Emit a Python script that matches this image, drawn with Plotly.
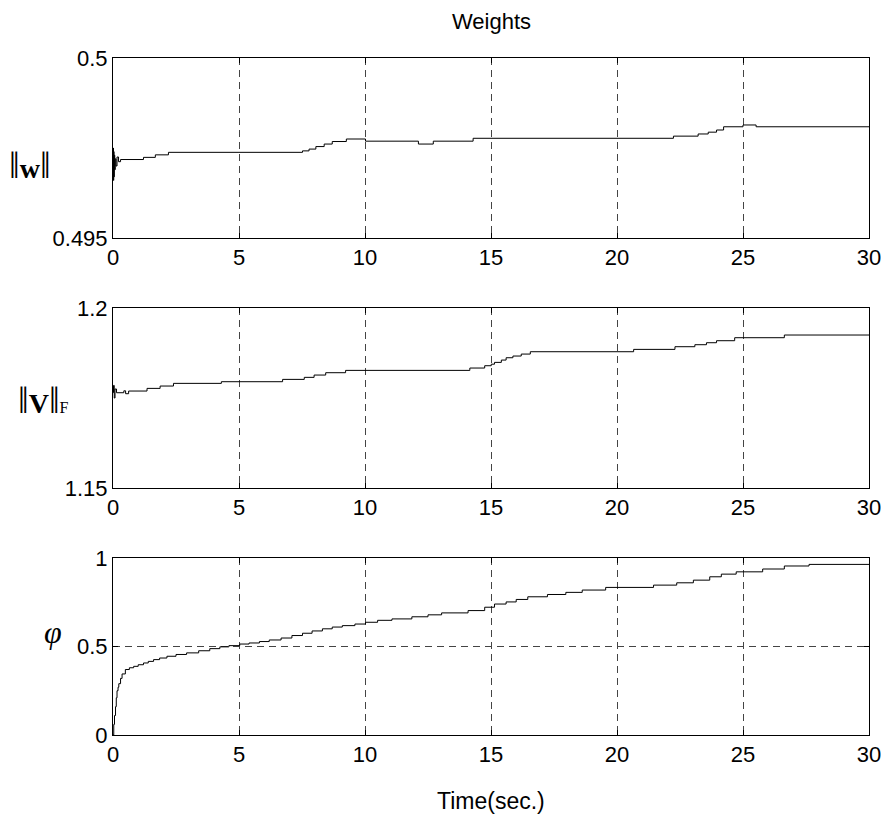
import plotly.graph_objects as go
from plotly.subplots import make_subplots

# ---- data ----
t_w = [0, 0.01, 0.02, 0.03, 0.04, 0.05, 0.07, 0.09, 0.12, 0.16, 0.22, 0.30, 1.21, 1.68, 2.20,
       7.52, 7.78, 8.05, 8.38, 8.70, 9.26, 10.02, 12.12, 12.71, 14.29, 22.24, 23.22, 23.62,
       23.95, 24.23, 25.0, 25.52, 30]
w_norm = [0.4970, 0.4975, 0.4966, 0.4974, 0.4967, 0.4973, 0.4969, 0.4972, 0.4970, 0.49725,
          0.49712, 0.49718, 0.49724, 0.49731, 0.49738, 0.49742, 0.49747, 0.49754, 0.49761,
          0.49768, 0.49775, 0.49769, 0.49761, 0.49769, 0.49777, 0.49783, 0.49789, 0.49794,
          0.49800, 0.49809, 0.49814, 0.49809, 0.49809]

t_v = [0, 0.02, 0.05, 0.08, 0.14, 0.43, 0.50, 0.62, 1.35, 1.87, 2.40, 4.30, 6.73, 7.59, 7.98,
       8.44, 9.23, 14.16, 14.75, 15.01, 15.14, 15.41, 15.6, 15.87, 16.2, 16.56, 20.66, 22.30,
       23.09, 23.55, 23.95, 24.67, 26.64, 30]
v_norm = [1.1765, 1.1785, 1.1750, 1.1775, 1.17647, 1.1770, 1.1762, 1.17694, 1.17768, 1.17833,
          1.17907, 1.17953, 1.18018, 1.18074, 1.18138, 1.18203, 1.18268, 1.18333, 1.18397,
          1.18440, 1.18490, 1.18554, 1.18619, 1.18666, 1.18721, 1.18786, 1.18851, 1.18925,
          1.18981, 1.19036, 1.19092, 1.19175, 1.19250, 1.19250]

t_phi = [0, 0.03, 0.06, 0.10, 0.13, 0.16, 0.20, 0.23, 0.30, 0.36, 0.49, 0.65, 0.82, 1.0, 1.21,
         1.4, 1.61, 1.85, 2.14, 2.5, 2.92, 3.4, 3.84, 4.24, 4.6, 5.03, 5.4, 5.81, 6.2, 6.67,
         7.1, 7.52, 7.9, 8.31, 8.7, 9.10, 9.6, 10.02, 10.5, 11.07, 11.86, 12.5, 13.04, 14.09,
         14.75, 15.14, 15.6, 16.0, 16.46, 17.24, 17.97, 18.62, 19.55, 21.45, 22.37, 23.03,
         23.68, 24.14, 24.73, 25.78, 26.64, 27.62, 30]
phi = [0.0, 0.06, 0.11, 0.16, 0.21, 0.25, 0.27, 0.29, 0.32, 0.345, 0.37, 0.38, 0.388, 0.397,
       0.407, 0.416, 0.426, 0.435, 0.445, 0.455, 0.464, 0.476, 0.488, 0.498, 0.505, 0.514,
       0.520, 0.528, 0.537, 0.548, 0.562, 0.575, 0.588, 0.600, 0.610, 0.618, 0.627, 0.637,
       0.648, 0.656, 0.668, 0.679, 0.690, 0.703, 0.722, 0.740, 0.752, 0.766, 0.781, 0.794,
       0.806, 0.819, 0.834, 0.847, 0.860, 0.875, 0.894, 0.909, 0.922, 0.938, 0.955, 0.964,
       0.964]

x_ticks = [0, 5, 10, 15, 20, 25, 30]
y1_ticks = [0.495, 0.5]
y1_text = ["0.495", "0.5"]
y2_ticks = [1.15, 1.2]
y2_text = ["1.15", "1.2"]
y3_ticks = [0, 0.5, 1]
y3_text = ["0", "0.5", "1"]

fig = make_subplots(rows=3, cols=1, shared_xaxes=False)

series = [(t_w, w_norm), (t_v, v_norm), (t_phi, phi)]
for i, (tt, vv) in enumerate(series, start=1):
    fig.add_trace(go.Scatter(x=tt, y=vv, mode="lines", line=dict(color="black", width=1, shape="hv"),
                             showlegend=False, hoverinfo="skip"), row=i, col=1)

domains = [[0.7341, 1.0], [0.3648, 0.6307], [0.0, 0.2614]]
yranges = [[0.495, 0.5], [1.15, 1.2], [0, 1]]
yticks = [(y1_ticks, y1_text), (y2_ticks, y2_text), (y3_ticks, y3_text)]

sans = "Liberation Sans, Arial, sans-serif"
tickfont = dict(family=sans, size=22, color="black")
for i in range(3):
    xa = "xaxis" if i == 0 else f"xaxis{i+1}"
    ya = "yaxis" if i == 0 else f"yaxis{i+1}"
    fig.layout[xa].update(range=[0, 30], tickvals=x_ticks, ticktext=[str(v) for v in x_ticks],
                          showline=True, linecolor="black", linewidth=1, mirror="ticks",
                          ticks="inside", ticklen=5, tickcolor="black",
                          showgrid=True, gridcolor="#444", gridwidth=1, griddash="7px,5px",
                          zeroline=False, tickfont=tickfont)
    fig.layout[ya].update(range=yranges[i], domain=domains[i], tickvals=yticks[i][0],
                          ticktext=yticks[i][1],
                          showline=True, linecolor="black", linewidth=1, mirror="ticks",
                          ticks="inside", ticklen=5, tickcolor="black",
                          showgrid=True, gridcolor="#444", gridwidth=1, griddash="7px,5px",
                          zeroline=False, tickfont=tickfont)

serif = "Liberation Serif, Times New Roman, serif"
bar = "<span style='font-size:38px'>‖</span>"
annotations = [
    dict(text=bar + "<b>w</b>" + bar, x=-0.110, y=0.842, xref="paper", yref="paper",
         showarrow=False, font=dict(family=serif, size=28, color="black"),
         xanchor="center", yanchor="middle"),
    dict(text=bar + "<b>V</b>" + bar + "<span style='font-size:16px'>F</span>",
         x=-0.092, y=0.495, xref="paper", yref="paper",
         showarrow=False, font=dict(family=serif, size=28, color="black"),
         xanchor="center", yanchor="middle"),
    dict(text="<i>φ</i>", x=-0.080, y=0.152, xref="paper", yref="paper", showarrow=False,
         font=dict(family=serif, size=32, color="black"), xanchor="center", yanchor="middle"),
    dict(text="Time(sec.)", x=0.5, y=0, xref="paper", yref="paper", showarrow=False,
         yshift=-66, font=dict(family=sans, size=23, color="black"),
         xanchor="center", yanchor="middle"),
    dict(text="Weights", x=0.5, y=1, xref="paper", yref="paper", showarrow=False,
         yshift=37, font=dict(family=sans, size=22, color="black"),
         xanchor="center", yanchor="middle"),
]

fig.update_layout(width=893, height=821, margin=dict(l=113, r=20, t=58, b=86),
                  paper_bgcolor="white", plot_bgcolor="white", annotations=annotations)

fig.write_html("out.html")
